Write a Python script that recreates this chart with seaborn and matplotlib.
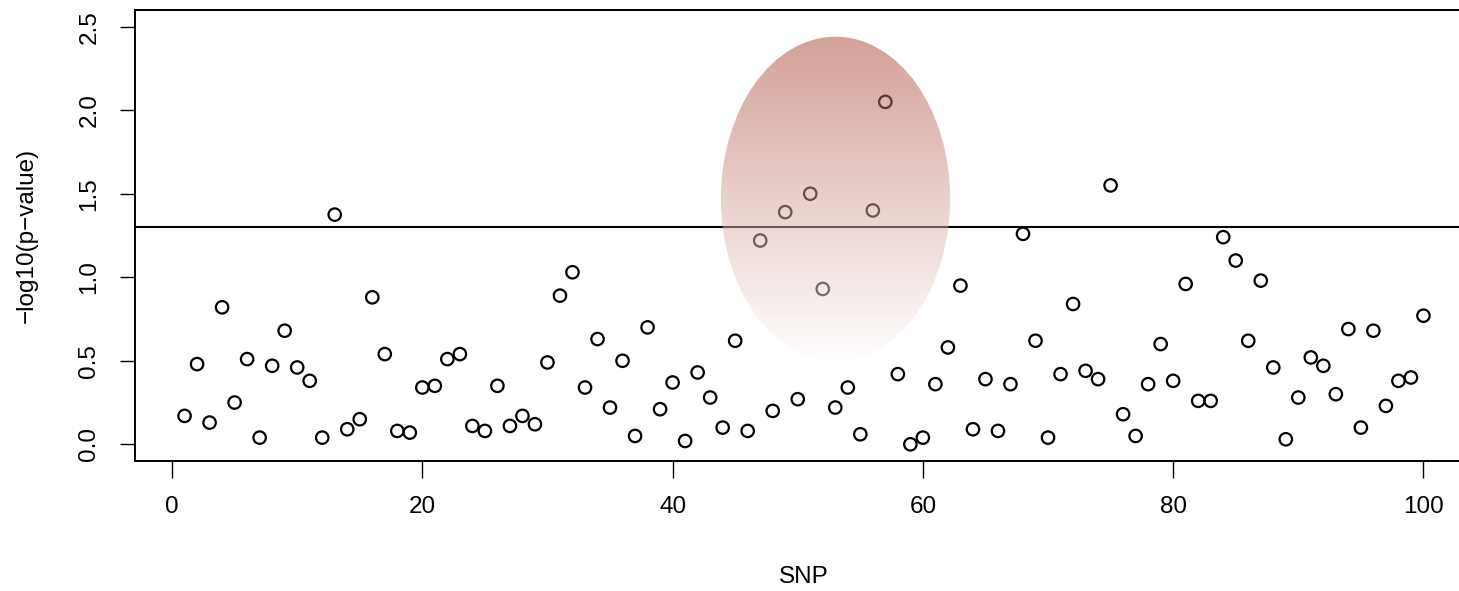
import numpy as np
import pandas as pd
import matplotlib
matplotlib.use("Agg")
import matplotlib.pyplot as plt
import seaborn as sns
from matplotlib.patches import Ellipse

# ---- data ----
snp = list(range(1, 101))
neglog_p = [0.17, 0.48, 0.13, 0.82, 0.25, 0.51, 0.04, 0.47, 0.68, 0.46,
            0.38, 0.04, 1.375, 0.09, 0.15, 0.88, 0.54, 0.08, 0.07, 0.34,
            0.35, 0.51, 0.54, 0.11, 0.08, 0.35, 0.11, 0.17, 0.12, 0.49,
            0.89, 1.03, 0.34, 0.63, 0.22, 0.50, 0.05, 0.70, 0.21, 0.37,
            0.02, 0.43, 0.28, 0.10, 0.62, 0.08, 1.22, 0.20, 1.39, 0.27,
            1.50, 0.93, 0.22, 0.34, 0.06, 1.40, 2.05, 0.42, 0.00, 0.04,
            0.36, 0.58, 0.95, 0.09, 0.39, 0.08, 0.36, 1.26, 0.62, 0.04,
            0.42, 0.84, 0.44, 0.39, 1.55, 0.18, 0.05, 0.36, 0.60, 0.38,
            0.96, 0.26, 0.26, 1.24, 1.10, 0.62, 0.98, 0.46, 0.03, 0.28,
            0.52, 0.47, 0.30, 0.69, 0.10, 0.68, 0.23, 0.38, 0.40, 0.77]
x_ticks = [0, 20, 40, 60, 80, 100]
y_ticks = [0.0, 0.5, 1.0, 1.5, 2.0, 2.5]
y_tick_labels = ["0.0", "0.5", "1.0", "1.5", "2.0", "2.5"]
threshold = -np.log10(0.05)

# highlighted region (ellipse) in data units
hl_center = (53.02, 1.47)
hl_width = 18.32
hl_height = 1.94

df = pd.DataFrame({"SNP": snp, "p": neglog_p})

sns.set_style("ticks")
plt.rcParams["font.family"] = ["Liberation Sans", "DejaVu Sans"]
plt.rcParams["text.color"] = "black"
plt.rcParams["axes.labelcolor"] = "black"

FS = 17.5
fig = plt.figure(figsize=(14.59, 5.91), dpi=100)
ax = fig.add_axes([135 / 1459, 130 / 591, 1338 / 1459, 451 / 591])

sns.scatterplot(data=df, x="SNP", y="p", ax=ax, marker="o", s=80,
                facecolors="none", edgecolor="black", linewidth=1.6, zorder=3)
for coll in ax.collections:
    coll.set_facecolor("none")
    coll.set_edgecolor("black")

ax.axhline(threshold, color="black", lw=1.5, zorder=2)

# gradient-filled ellipse overlay
ny = 256
t = np.linspace(0, 1, ny)[:, None, None]
top = np.array([169, 65, 49]) / 255.0
grad = np.zeros((ny, 2, 4))
grad[..., :3] = top + (1 - top) * t
grad[..., 3] = 0.5
cx, cy = hl_center
im = ax.imshow(grad, extent=[cx - hl_width / 2, cx + hl_width / 2,
                             cy - hl_height / 2, cy + hl_height / 2],
               origin="upper", aspect="auto", zorder=5, interpolation="bilinear")
ell = Ellipse(hl_center, hl_width, hl_height, transform=ax.transData,
              facecolor="none", edgecolor="none")
ax.add_patch(ell)
im.set_clip_path(ell)

ax.set_xlim(-2.96, 103.96)
ax.set_ylim(-0.1, 2.6)
ax.set_xticks(x_ticks)
ax.set_xticklabels([str(v) for v in x_ticks])
ax.set_yticks(y_ticks)
ax.set_yticklabels(y_tick_labels, rotation=90, va="center")

for side in ["left", "top", "bottom"]:
    ax.spines[side].set_visible(True)
    ax.spines[side].set_linewidth(1.4)
    ax.spines[side].set_color("black")
ax.spines["right"].set_visible(False)

ax.tick_params(axis="x", length=12, width=1.0, pad=13, labelsize=FS,
               colors="black", labelcolor="black")
ax.tick_params(axis="y", length=11, width=1.0, pad=14, labelsize=FS,
               colors="black", labelcolor="black")

ax.set_xlabel("SNP", fontsize=FS, va="baseline", color="black")
ax.xaxis.set_label_coords(0.5, -0.2705)
ax.set_ylabel("\u2212log10(p\u2212value)", fontsize=FS, va="baseline", color="black")
ax.yaxis.set_label_coords(-0.0762, 0.5)

fig.savefig("out.png", dpi=100)
